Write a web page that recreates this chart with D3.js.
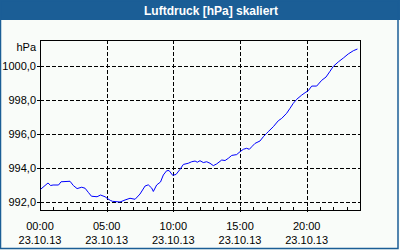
<!DOCTYPE html>
<html><head><meta charset="utf-8">
<script src="https://cdn.jsdelivr.net/npm/d3@7"></script>
<style>
html,body{margin:0;padding:0;background:#f9fcf9;}
svg{display:block;}
text{font-family:"Liberation Sans",Arial,sans-serif;}
</style></head>
<body>
<svg id="c" width="400" height="250"></svg>
<script>
const title = "Luftdruck [hPa] skaliert";
const unit = "hPa";
const hours = [0.05,0.6,0.8,0.98,1.39,1.58,2.25,2.5,2.78,3.13,3.38,3.62,3.86,4.28,4.54,4.88,5.1,5.29,5.44,6.0,6.38,6.75,7.13,7.5,7.88,8.12,8.38,8.5,8.75,9.04,9.25,9.5,9.68,9.95,10.2,10.5,10.75,11.12,11.38,11.63,11.8,12.0,12.25,12.5,12.75,13.0,13.25,13.63,13.88,14.12,14.38,14.75,15.0,15.25,15.5,15.7,15.88,16.13,16.5,16.75,17.0,17.12,17.5,17.87,18.13,18.5,18.75,19.0,19.25,19.63,19.88,20.12,20.38,20.75,21.13,21.45,21.75,22.0,22.37,22.75,23.12,23.5,23.81];
const pressure = [992.72,993.09,992.94,992.97,992.97,993.16,993.19,992.94,992.76,992.84,992.78,992.54,992.31,992.28,992.38,992.28,992.15,992.06,992.01,991.97,992.09,992.19,992.13,992.44,992.91,992.98,992.79,992.59,992.97,993.15,993.56,993.81,993.82,993.54,993.59,993.89,994.18,994.25,994.34,994.38,994.31,994.40,994.29,994.34,994.25,994.11,994.21,994.44,994.41,994.54,994.71,994.76,994.93,995.07,995.13,995.07,995.22,995.42,995.56,995.81,996.01,996.11,996.40,996.75,996.89,997.19,997.48,997.78,998.01,998.26,998.40,998.52,998.79,998.79,999.13,999.32,999.66,999.95,1000.21,1000.44,1000.68,1000.87,1000.97];
const yTicks = [992,994,996,998,1000];
const xTicks = [0,5,10,15,20];
const xTimeLabels = ["00:00","05:00","10:00","15:00","20:00"];
const xDateLabels = ["23.10.13","23.10.13","23.10.13","23.10.13","23.10.13"];
const minorX = d3.range(0,24,1);

const svg = d3.select("#c");
const L=40,T=40,R=360,B=210;
const x = d3.scaleLinear().domain([0,24]).range([L,R]);
const y = d3.scaleLinear().domain([991.5,1001.5]).range([B,T]);

// background & frame
svg.append("rect").attr("x",0).attr("y",0).attr("width",400).attr("height",250).attr("fill","#f9fcf9");
svg.append("rect").attr("x",0).attr("y",0).attr("width",400).attr("height",20).attr("fill","#1b5e96");
svg.append("rect").attr("x",0.5).attr("y",0.5).attr("width",397.5).attr("height",248).attr("fill","none").attr("stroke","#1b5e96").attr("stroke-width",1.5);
svg.append("text").attr("x",211).attr("y",14.5).attr("text-anchor","middle").attr("fill","#fff")
  .attr("font-weight","bold").attr("font-size",12).text(title);

// grid
const g = svg.append("g").attr("shape-rendering","crispEdges");
g.selectAll(".hg").data(yTicks).join("line").attr("x1",L).attr("x2",R)
  .attr("y1",d=>Math.round(y(d))+0.5).attr("y2",d=>Math.round(y(d))+0.5)
  .attr("stroke","#000").attr("stroke-dasharray","4,2");
g.selectAll(".vg").data(xTicks.filter(d=>d>0)).join("line")
  .attr("x1",d=>Math.round(x(d))+0.5).attr("x2",d=>Math.round(x(d))+0.5).attr("y1",T).attr("y2",B+3)
  .attr("stroke","#000").attr("stroke-dasharray","4,2");
// minor ticks
g.selectAll(".mt").data(minorX).join("line")
  .attr("x1",d=>Math.round(x(d))+0.5).attr("x2",d=>Math.round(x(d))+0.5).attr("y1",B-3).attr("y2",B)
  .attr("stroke","#000");
// y ticks
g.selectAll(".yt").data(yTicks).join("line").attr("x1",L-3).attr("x2",L)
  .attr("y1",d=>Math.round(y(d))+0.5).attr("y2",d=>Math.round(y(d))+0.5).attr("stroke","#000");
// frame
g.append("rect").attr("x",L+0.5).attr("y",T+0.5).attr("width",R-L).attr("height",B-T)
  .attr("fill","none").attr("stroke","#000");

// line
svg.append("path").datum(hours.map((h,i)=>[h,pressure[i]]))
  .attr("fill","none").attr("stroke","#0000ff").attr("stroke-width",1)
  .attr("d",d3.line().x(d=>x(d[0])).y(d=>y(d[1])));

// labels
svg.selectAll(".yl").data(yTicks).join("text").attr("x",36).attr("y",d=>y(d)+4.5)
  .attr("text-anchor","end").attr("font-size",11).attr("fill","#000")
  .text(d=>d3.format(".1f")(d).replace(".",","));
svg.append("text").attr("x",36).attr("y",51).attr("text-anchor","end").attr("font-size",11).text(unit);
svg.selectAll(".xl").data(xTicks).join("text").attr("x",d=>x(d)).attr("y",229.5)
  .attr("text-anchor","middle").attr("font-size",11).text((d,i)=>xTimeLabels[i]);
svg.selectAll(".xd").data(xTicks).join("text").attr("x",d=>x(d)).attr("y",243.5)
  .attr("text-anchor","middle").attr("font-size",11).text((d,i)=>xDateLabels[i]);
</script>
</body></html>
